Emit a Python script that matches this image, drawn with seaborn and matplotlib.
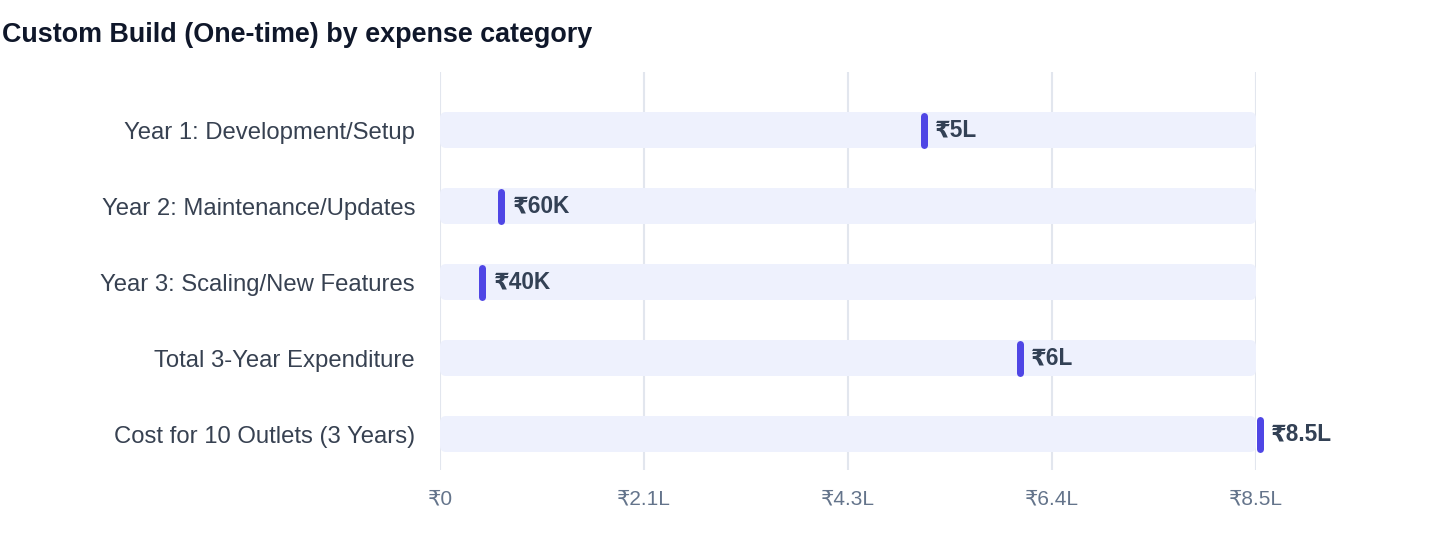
import matplotlib
matplotlib.use("Agg")
import matplotlib.pyplot as plt
import matplotlib.transforms as mtransforms
from matplotlib.patches import FancyBboxPatch
import pandas as pd
import seaborn as sns

categories = [
    "Year 1: Development/Setup",
    "Year 2: Maintenance/Updates",
    "Year 3: Scaling/New Features",
    "Total 3-Year Expenditure",
    "Cost for 10 Outlets (3 Years)",
]
values = [500000, 60000, 40000, 600000, 850000]
value_labels = ["₹5L", "₹60K", "₹40K", "₹6L", "₹8.5L"]
axis_max = 850000
tick_values = [0, 212500, 425000, 637500, 850000]
tick_labels = ["₹0", "₹2.1L", "₹4.3L", "₹6.4L", "₹8.5L"]

TRACK = "#EEF1FD"
MARKER = "#4F46E5"
GRID = "#E2E6EE"

sns.set_theme(style="white")
plt.rcParams["font.family"] = ["Liberation Sans", "DejaVu Sans"]

W, H = 1440, 560
fig = plt.figure(figsize=(W / 100, H / 100), dpi=100)
# axes box in pixels: left 440, right 1256, top 72, bottom 470
ax = fig.add_axes([440 / W, 1 - 470 / H, 816 / W, 398 / H])

df = pd.DataFrame({"category": categories, "track": [axis_max] * len(categories)})
sns.barplot(data=df, x="track", y="category", color=TRACK, width=36 / 76,
            saturation=1, ax=ax, zorder=2)

ax.set_xlim(0, axis_max)
ax.set_ylim(4 + 36 / 76, -58 / 76)

# swap the plain bars for rounded ones
px_x = axis_max / 816
px_y = 1 / 76
for p in list(ax.patches):
    x0, y0, w, h = p.get_x(), p.get_y(), p.get_width(), p.get_height()
    p.remove()
    ax.add_patch(FancyBboxPatch((x0, y0), w, h,
                                boxstyle=f"round,pad=0,rounding_size={6 * px_x}",
                                mutation_aspect=px_y / px_x,
                                facecolor=TRACK, edgecolor="none", zorder=2))

# pill markers, left edge at the value
shift = mtransforms.ScaledTranslation(3.5 / 100, 0, fig.dpi_scale_trans)
ypos = list(range(len(categories)))
lc = ax.vlines(values, [y - 14.5 / 76 for y in ypos], [y + 14.5 / 76 for y in ypos],
               colors=MARKER, linewidth=7 * 0.72, zorder=4, clip_on=False,
               transform=ax.transData + shift)
lc.set_capstyle("round")

for v, y, lab in zip(values, ypos, value_labels):
    ax.annotate(lab, (v, y), xytext=(15 * 0.72, 0), textcoords="offset points",
                ha="left", va="center", fontsize=16.3, fontweight="bold",
                color="#334155", zorder=5, annotation_clip=False)

ax.set_xticks(tick_values)
ax.set_xticklabels(tick_labels)
ax.grid(axis="x", color=GRID, linewidth=1.5, zorder=0)
ax.grid(axis="y", visible=False)
ax.set_axisbelow(True)
for s in ax.spines.values():
    s.set_visible(False)
ax.tick_params(axis="x", length=0, pad=14, labelsize=15, labelcolor="#64748B")
ax.tick_params(axis="y", length=0, pad=18, labelsize=17.2, labelcolor="#374151")
ax.set_xlabel("")
ax.set_ylabel("")

fig.text(2 / W, 1 - 42 / H, "Custom Build (One-time) by expense category",
         fontsize=19.4, fontweight="bold", color="#0F172A", ha="left", va="baseline")

fig.savefig("out.png", dpi=100)
